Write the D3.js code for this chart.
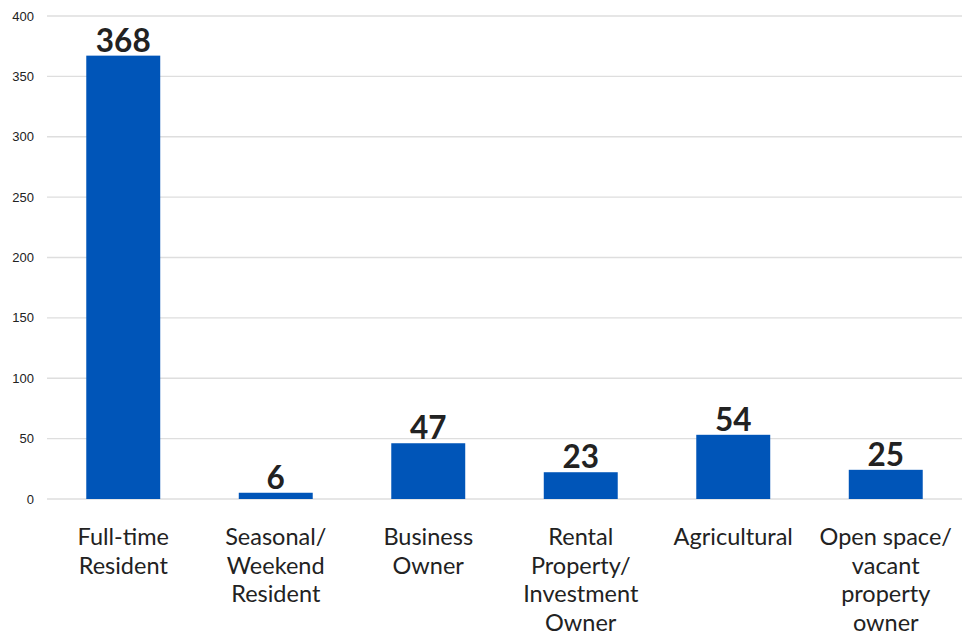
<!DOCTYPE html>
<html><head><meta charset="utf-8">
<script src="https://cdn.jsdelivr.net/npm/d3@7"></script>
<style>body{margin:0;background:#fff}</style>
</head><body>
<svg id="c" width="972" height="632"></svg>
<script>
const categories = ["Full-time|Resident","Seasonal/|Weekend|Resident","Business|Owner","Rental|Property/|Investment|Owner","Agricultural","Open space/|vacant|property|owner"];
const values = [368, 6, 47, 23, 54, 25];
const yTicks = [0,50,100,150,200,250,300,350,400];

(function(){
const svg = d3.select("#c");
const pL = 47, pR = 962, pT = 16, pB = 499;
const x = d3.scaleBand().domain(categories).range([pL, pR]).paddingInner(0.515).paddingOuter(0.2575);
const y = d3.scaleLinear().domain([0,400]).range([pB, pT]);

svg.append("g").selectAll("line").data(yTicks).join("line")
  .attr("x1", pL).attr("x2", pR)
  .attr("y1", d=>y(d)).attr("y2", d=>y(d))
  .attr("stroke", "#dedede").attr("stroke-width", 1.3);

svg.append("g").selectAll("text").data(yTicks).join("text")
  .attr("x", 34).attr("y", d=>y(d)+4.5).attr("text-anchor","end")
  .attr("font-family","Liberation Sans, Arial, sans-serif").attr("font-size",13).attr("fill","#222")
  .text(d=>d);

svg.append("g").selectAll("rect").data(values).join("rect")
  .attr("x",(d,i)=>x(categories[i])).attr("width",x.bandwidth())
  .attr("y",d=>y(d)+1).attr("height",d=>pB-y(d)-1)
  .attr("fill","#0055b8");

svg.append("g").selectAll("text").data(values).join("text")
  .attr("x",(d,i)=>x(categories[i])+x.bandwidth()/2).attr("y",d=>y(d)-3)
  .attr("text-anchor","middle").attr("font-family","Lato, sans-serif").attr("font-weight","bold")
  .attr("font-size",31.5).attr("fill","#222").text(d=>d);

const lab = svg.append("g").selectAll("text").data(categories).join("text")
  .attr("text-anchor","middle").attr("font-family","Lato, sans-serif").attr("font-size",23.5).attr("fill","#222");
lab.each(function(d){
  const t = d3.select(this);
  d.split("|").forEach((s,i)=>{
    t.append("tspan").attr("x", x(d)+x.bandwidth()/2).attr("y", 545+i*28.5).text(s);
  });
});
})();
</script>
</body></html>
